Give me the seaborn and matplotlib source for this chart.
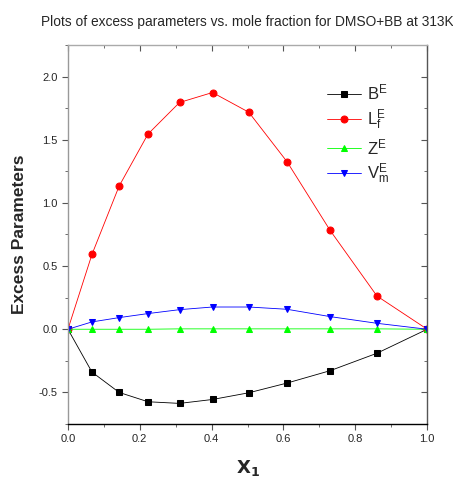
import matplotlib
matplotlib.use("Agg")
import matplotlib.pyplot as plt
from matplotlib.ticker import MultipleLocator, FormatStrFormatter
import numpy as np
import pandas as pd
import seaborn as sns

# mole fraction of DMSO
x1 = [0.0, 0.0668, 0.1424, 0.2228, 0.3106, 0.4024, 0.5034, 0.6099, 0.7299, 0.8602, 1.0]

b_e = [0.0, -0.339, -0.500, -0.574, -0.587, -0.556, -0.503, -0.426, -0.328, -0.190, 0.0]
lf_e = [0.0, 0.592, 1.133, 1.545, 1.795, 1.874, 1.718, 1.326, 0.782, 0.263, 0.0]
z_e = [0.0, 0.0, 0.0, 0.0, 0.003, 0.003, 0.003, 0.003, 0.003, 0.003, 0.0]
vm_e = [0.0, 0.058, 0.092, 0.124, 0.155, 0.176, 0.176, 0.158, 0.100, 0.047, 0.0]

series = [
    (r"$\mathregular{B^E}$", b_e, "black", "s"),
    (r"$\mathregular{L_f^E}$", lf_e, "red", "o"),
    (r"$\mathregular{Z^E}$", z_e, "#00ff00", "^"),
    (r"$\mathregular{V_m^E}$", vm_e, "blue", "v"),
]

sns.set_style("ticks")
plt.rcParams["font.family"] = ["Liberation Sans", "DejaVu Sans"]

fig = plt.figure(figsize=(4.53, 4.84), dpi=100)
ax = fig.add_axes([0.150, 0.124, 0.793, 0.783])

for label, vals, col, mk in series:
    df = pd.DataFrame({"x": x1, "y": vals})
    sns.lineplot(data=df, x="x", y="y", ax=ax, color=col, marker=mk,
                 markersize=5, markeredgecolor=col, linewidth=0.6,
                 label=label)

ax.set_xlim(0, 1.0)
ax.set_ylim(-0.75, 2.25)
ax.xaxis.set_major_locator(MultipleLocator(0.2))
ax.xaxis.set_minor_locator(MultipleLocator(0.1))
ax.yaxis.set_major_locator(MultipleLocator(0.5))
ax.yaxis.set_minor_locator(MultipleLocator(0.25))
ax.xaxis.set_major_formatter(FormatStrFormatter("%.1f"))
ax.yaxis.set_major_formatter(FormatStrFormatter("%.1f"))

ax.tick_params(axis="both", which="both", direction="out", labelsize=8,
               top=False, right=False, color="#555555")
ax.tick_params(which="major", length=4)
ax.tick_params(which="minor", length=2.5)

# inward ticks on top and right like the original
sec_x = ax.secondary_xaxis("top")
sec_x.xaxis.set_major_locator(MultipleLocator(0.2))
sec_x.xaxis.set_minor_locator(MultipleLocator(0.1))
sec_x.tick_params(which="both", direction="in", labeltop=False, color="#555555")
sec_x.tick_params(which="major", length=4)
sec_x.tick_params(which="minor", length=2.5)
sec_x.spines["top"].set_visible(False)
sec_y = ax.secondary_yaxis("right")
sec_y.yaxis.set_major_locator(MultipleLocator(0.5))
sec_y.yaxis.set_minor_locator(MultipleLocator(0.25))
sec_y.tick_params(which="both", direction="in", labelright=False, color="#555555")
sec_y.tick_params(which="major", length=4)
sec_y.tick_params(which="minor", length=2.5)
sec_y.spines["right"].set_visible(False)

for side, col in [("left", "#999999"), ("top", "#aaaaaa"),
                  ("right", "#555555"), ("bottom", "black")]:
    ax.spines[side].set_visible(True)
    ax.spines[side].set_color(col)
    ax.spines[side].set_linewidth(1.0)

ax.set_xlabel(r"$\mathbf{X_1}$", fontsize=13, labelpad=10)
ax.set_ylabel("Excess Parameters", fontsize=12.5, fontweight="bold", labelpad=8)
fig.text(0.545, 0.955, "Plots of excess parameters vs. mole fraction for DMSO+BB at 313K",
         ha="center", va="center", fontsize=9.9)

leg = ax.legend(loc="upper left", bbox_to_anchor=(0.68, 0.94), frameon=False,
                fontsize=12, handlelength=2.0, labelspacing=0.3,
                handletextpad=0.4)

fig.savefig("out.png", dpi=100)
